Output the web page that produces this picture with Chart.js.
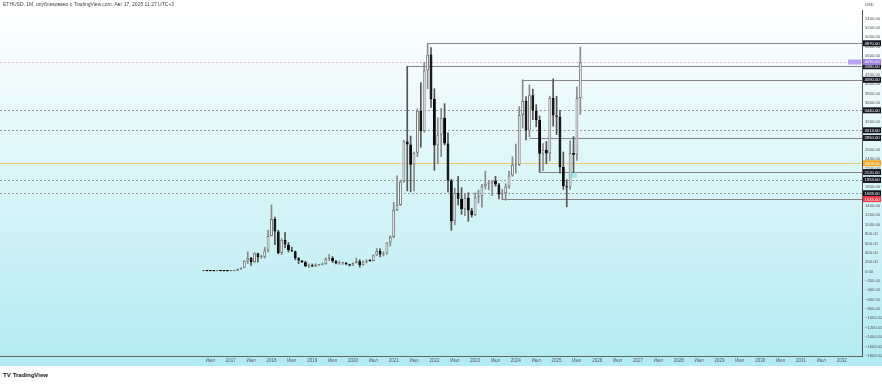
<!DOCTYPE html>
<html><head><meta charset="utf-8">
<script src="https://cdn.jsdelivr.net/npm/chart.js@4.4.1/dist/chart.umd.min.js"></script>
<style>
html,body{margin:0;padding:0;background:#fff;width:882px;height:384px;overflow:hidden;font-family:"Liberation Sans",Arial,sans-serif}
#c{position:absolute;left:0;top:0}
#title{position:absolute;left:3px;top:1px;font-size:5px;color:#444;z-index:2;white-space:nowrap}
#footer{position:absolute;left:3px;top:372px;font-size:6px;font-weight:bold;color:#131722;white-space:nowrap}
#footer span{font-weight:900;margin-right:2px}
</style></head>
<body>
<canvas id="c" width="882" height="366"></canvas>
<div id="title">ETHUSD, 1M, опубликовано с TradingView.com, Авг 17, 2025 11:27 UTC+3</div>
<div id="footer"><span>TV</span>TradingView</div>
<script>
// ---- data ----
const candleMonths = ['2016-05','2016-06','2016-07','2016-08','2016-09','2016-10','2016-11','2016-12',
'2017-01','2017-02','2017-03','2017-04','2017-05','2017-06','2017-07','2017-08','2017-09','2017-10','2017-11','2017-12',
'2018-01','2018-02','2018-03','2018-04','2018-05','2018-06','2018-07','2018-08','2018-09','2018-10','2018-11','2018-12',
'2019-01','2019-02','2019-03','2019-04','2019-05','2019-06','2019-07','2019-08','2019-09','2019-10','2019-11','2019-12',
'2020-01','2020-02','2020-03','2020-04','2020-05','2020-06','2020-07','2020-08','2020-09','2020-10','2020-11','2020-12',
'2021-01','2021-02','2021-03','2021-04','2021-05','2021-06','2021-07','2021-08','2021-09','2021-10','2021-11','2021-12',
'2022-01','2022-02','2022-03','2022-04','2022-05','2022-06','2022-07','2022-08','2022-09','2022-10','2022-11','2022-12',
'2023-01','2023-02','2023-03','2023-04','2023-05','2023-06','2023-07','2023-08','2023-09','2023-10','2023-11','2023-12',
'2024-01','2024-02','2024-03','2024-04','2024-05','2024-06','2024-07','2024-08','2024-09','2024-10','2024-11','2024-12',
'2025-01','2025-02','2025-03','2025-04','2025-05','2025-06','2025-07','2025-08'];
const opens = [9.3,14,12.4,11.6,11.4,13.2,11.3,8.6,
8,10.7,15.7,50,80,230,290,200,388,302,305,445,
755,1120,855,395,670,577,455,433,283,232,198,113,
133,107,136,141,162,268,290,218,172,180,183,152,
130,180,218,133,206,231,226,346,435,360,386,617,
737,1312,1416,1919,2773,2707,2275,2536,3430,3000,4290,4630,
3680,2690,2920,3280,2730,1940,1070,1680,1550,1330,1570,1300,
1200,1585,1605,1820,1870,1875,1935,1855,1645,1670,1815,2050,
2280,2280,3340,3640,3010,3760,3430,3230,2510,2600,2520,3700,
3330,3300,2230,1820,1790,2530,2490,3700];
const highs = [14.6,21.5,14.9,12.6,14.1,13.6,11.5,8.9,
11.4,16,55,80,230,420,300,400,395,350,520,880,
1420,1160,880,700,835,620,520,435,300,237,220,160,
160,165,145,185,290,365,318,240,225,198,195,155,
185,288,253,227,250,255,350,490,489,420,620,760,
1476,2040,1950,2800,4380,2890,2550,3470,4030,4460,4870,4780,
3900,3280,3480,3580,2960,1970,1780,2030,1790,1660,1680,1350,
1680,1740,1860,2140,1930,1940,2030,1880,1750,1870,2140,2450,
2720,3520,4090,3730,3980,3890,3560,3320,2730,2770,3740,4110,
3740,3440,2550,1960,2790,2880,3940,4790];
const lows = [8,11.2,10.5,7.2,11,10.5,8.4,6.3,
8,10.3,15.5,42,80,170,130,185,200,280,285,415,
755,570,370,360,500,415,420,250,165,190,100,82,
100,102,127,140,155,230,190,160,153,150,140,116,
126,180,90,130,180,216,222,340,310,330,370,540,
715,1300,1410,1900,1720,1700,1720,2450,2650,2970,3900,3500,
2160,2300,2450,2700,1700,880,1000,1420,1220,1190,1070,1160,
1190,1460,1370,1760,1740,1620,1820,1550,1530,1520,1770,2030,
2100,2260,3060,2810,2870,3240,3090,2120,2150,2300,2360,3100,
2920,2100,1750,1380,1750,2110,2370,3350];
const closes = [14,12.4,11.6,11.4,13.2,11.3,8.6,8,
10.7,15.7,50,80,230,290,200,388,302,305,445,755,
1120,855,395,670,577,455,433,283,232,198,113,133,
107,136,141,162,268,290,218,172,180,183,152,130,
180,218,133,206,231,226,346,435,360,386,617,737,
1312,1416,1919,2773,2707,2275,2536,3430,3000,4290,4630,3680,
2690,2920,3280,2730,1940,1070,1680,1550,1330,1570,1300,1200,
1585,1605,1820,1870,1875,1935,1855,1645,1670,1815,2050,2280,
2285,3340,3640,3010,3760,3430,3230,2510,2600,2520,3700,3330,
3300,2230,1820,1790,2530,2490,3700,4470];

// horizontal rays (start month, price)
const rayStarts = ['2021-11','2021-05','2024-03','2024-05','2024-08','2023-09'];
const rayValues = [4870, 4380, 4090, 2850, 2120, 1545];
const dottedLevels = [3440, 3013, 1953, 1669];
const orangeLevel = 2309;
const lastPrice = 4470;
const zoneMonths = ['2025-05','2025-07'];
const zoneValues = [2000, 2130];
const yTicks = [-1800,-1600,-1400,-1200,-1000,-800,-600,-400,-200,0,200,400,600,800,1000,1200,1400,1600,1800,
  2000,2200,2400,2600,2800,3000,3200,3400,3600,3800,4000,4200,4400,4600,4800,5000,5200,5400];
const firstLabelMonth = '2016-07';
const lastLabelMonth = '2032-01';
const midYearLabel = 'Июл';

// categories (months shown on the time axis)
const firstYear = 2011, firstMonth = 5, monthCount = 255;
const categories = [];
for (let i = 0; i < monthCount; i++) {
  const t = firstMonth - 1 + i;
  categories.push((firstYear + Math.floor(t / 12)) + '-' + String(t % 12 + 1).padStart(2, '0'));
}
const firstLabelIdx = categories.indexOf(firstLabelMonth);
const lastLabelIdx = categories.indexOf(lastLabelMonth);

// build aligned arrays
const bodies = categories.map(() => null), wicks = categories.map(() => null);
const bodyFill = categories.map(() => '#fff'), bodyLine = categories.map(() => '#777'), wickCol = categories.map(() => '#888');
candleMonths.forEach((m, k) => {
  const i = categories.indexOf(m);
  const o = opens[k], c = closes[k];
  bodies[i] = [Math.min(o, c), Math.max(o, c)];
  wicks[i] = [lows[k], highs[k]];
  const up = c >= o;
  bodyFill[i] = up ? '#ffffff' : '#000000';
  bodyLine[i] = up ? '#7a7a7a' : '#000000';
  wickCol[i] = up ? '#8a8a8a' : '#555555';
});

const fmt = v => (v < 0 ? '\u2212' : '') + Math.abs(v).toFixed(2);

const overlay = {
  id: 'overlay',
  beforeDraw(chart) {
    const { ctx, chartArea: a, width } = chart;
    ctx.save();
    const g = ctx.createLinearGradient(0, a.top, 0, a.bottom);
    g.addColorStop(0, '#ffffff');
    g.addColorStop(1, '#b4ebf1');
    ctx.fillStyle = g;
    ctx.fillRect(0, a.top, width, a.bottom - a.top);
    ctx.fillStyle = '#b2ebf2';
    ctx.fillRect(0, a.bottom, width, chart.height - a.bottom);
    ctx.restore();
  },
  beforeDatasetsDraw(chart) {
    const { ctx, chartArea: a, scales: { x, y } } = chart;
    ctx.save();
    ctx.lineWidth = 1;
    // dotted levels
    ctx.setLineDash([2, 2]);
    ctx.strokeStyle = '#9a9a9a';
    dottedLevels.forEach(v => {
      const py = Math.round(y.getPixelForValue(v)) + 0.5;
      ctx.beginPath(); ctx.moveTo(a.left, py); ctx.lineTo(a.right, py); ctx.stroke();
    });
    ctx.strokeStyle = '#e2b9d6';
    const lp = Math.round(y.getPixelForValue(lastPrice)) + 0.5;
    ctx.beginPath(); ctx.moveTo(a.left, lp); ctx.lineTo(a.right, lp); ctx.stroke();
    ctx.setLineDash([]);
    // orange level
    ctx.strokeStyle = '#e8c987';
    const op = Math.round(y.getPixelForValue(orangeLevel)) + 0.5;
    ctx.beginPath(); ctx.moveTo(a.left, op); ctx.lineTo(a.right, op); ctx.stroke();
    // rays
    ctx.strokeStyle = '#858585';
    rayStarts.forEach((m, k) => {
      const px = x.getPixelForValue(categories.indexOf(m));
      const py = Math.round(y.getPixelForValue(rayValues[k])) + 0.5;
      ctx.beginPath(); ctx.moveTo(px, py); ctx.lineTo(a.right, py); ctx.stroke();
    });
    // zone
    const zx0 = x.getPixelForValue(categories.indexOf(zoneMonths[0]));
    const zx1 = x.getPixelForValue(categories.indexOf(zoneMonths[1]));
    const zy0 = y.getPixelForValue(zoneValues[1]), zy1 = y.getPixelForValue(zoneValues[0]);
    ctx.fillStyle = 'rgba(120,215,230,0.55)';
    ctx.fillRect(zx0, zy0, zx1 - zx0, zy1 - zy0);
    ctx.restore();
  },
  afterDraw(chart) {
    const { ctx, chartArea: a, scales: { y } } = chart;
    ctx.save();
    ctx.font = '4.2px "Liberation Sans", Arial, sans-serif';
    ctx.textBaseline = 'middle';
    ctx.textAlign = 'left';
    const tag = (v, bg, fg) => {
      const py = y.getPixelForValue(v);
      ctx.fillStyle = bg;
      ctx.fillRect(a.right + 1, py - 3, 18, 6);
      ctx.fillStyle = fg;
      ctx.fillText(fmt(v), a.right + 2.5, py + 0.3);
    };
    const blacks = rayValues.slice(0, 5).concat(dottedLevels);
    blacks.forEach(v => tag(v, '#131722', '#ffffff'));
    tag(rayValues[5], '#f23645', '#ffffff');
    tag(orangeLevel, '#f5a623', '#ffffff');
    tag(lastPrice, '#9c7fe0', '#ffffff');
    // purple side tag
    const lp = y.getPixelForValue(lastPrice);
    ctx.fillStyle = '#b9a3ee';
    ctx.fillRect(a.right - 14, lp - 2.5, 13, 5);
    // USD
    ctx.fillStyle = '#444';
    ctx.fillText('USD', a.right + 3, 4.5);
    ctx.restore();
  }
};

new Chart(document.getElementById('c'), {
  type: 'bar',
  data: {
    labels: categories,
    datasets: [
      { data: bodies, backgroundColor: bodyFill, borderColor: bodyLine, borderWidth: 1, borderSkipped: false,
        grouped: false, barPercentage: 0.85, categoryPercentage: 1, minBarLength: 1, order: 1 },
      { data: wicks, backgroundColor: wickCol, borderWidth: 0, grouped: false, barThickness: 1, order: 2 }
    ]
  },
  options: {
    responsive: false, animation: false, devicePixelRatio: 1,
    layout: { padding: { top: 10, left: 0, right: 0, bottom: 0 } },
    plugins: { legend: { display: false }, tooltip: { enabled: false } },
    scales: {
      x: {
        type: 'category', offset: false,
        grid: { display: false, drawTicks: false },
        border: { display: true, color: '#666', width: 1 },
        afterFit(s) { s.height = 10; },
        ticks: {
          autoSkip: false, maxRotation: 0, padding: 2,
          font: { size: 4.5, family: '"Liberation Sans", Arial, sans-serif' }, color: '#555',
          callback(v, i) {
            if (i < firstLabelIdx || i > lastLabelIdx) return null;
            const p = categories[i].split('-');
            if (p[1] === '01') return p[0];
            if (p[1] === '07') return midYearLabel;
            return null;
          }
        }
      },
      y: {
        position: 'right', min: -1804, max: 5580,
        grid: { display: false, drawTicks: false },
        border: { display: true, color: '#555', width: 1 },
        afterFit(s) { s.width = 20; },
        afterBuildTicks(s) { s.ticks = yTicks.map(v => ({ value: v })); },
        ticks: {
          padding: 3,
          font: { size: 4.2, family: '"Liberation Sans", Arial, sans-serif' }, color: '#555',
          callback: v => fmt(v)
        }
      }
    }
  },
  plugins: [overlay]
});
</script>
</body></html>
